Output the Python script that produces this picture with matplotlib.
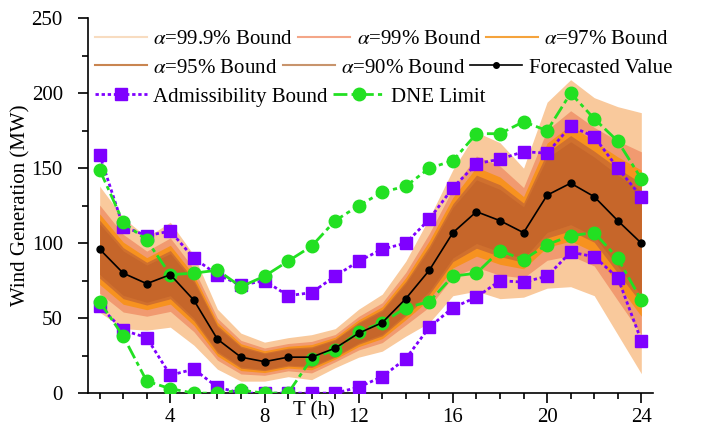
import numpy as np
import matplotlib
matplotlib.use("Agg")
from matplotlib import pyplot as plt
from matplotlib.lines import Line2D
from matplotlib.ticker import MultipleLocator

plt.rcParams['font.family'] = ['Liberation Serif', 'DejaVu Serif']
plt.rcParams['mathtext.fontset'] = 'stix'
plt.rcParams['font.size'] = 15

hours = np.arange(1, 25)

forecast = [96, 80, 73, 79, 62, 36, 24, 21, 24, 24, 30, 40,
            47, 63, 82, 107, 121, 115, 107, 132, 140, 131, 115, 100]

# half width of the widest (99.9%) band around the forecast
spread = [42, 37, 31, 35, 30, 20, 16, 13, 13, 15, 13, 16,
          19, 25, 35, 42, 53, 52, 43, 62, 69, 66, 76, 87]

levels = ['99.9%', '99%', '97%', '95%', '90%']
level_frac = [1.0, 0.70, 0.56, 0.46, 0.40]
fill_colors = ['#f9c99c', '#f19a70', '#f7921f', '#d0702e', '#c6662a']
legend_colors = ['#f8dcc0', '#f4a688', '#f5a33c', '#c98550', '#c8946c']

adm_upper = [159, 111, 105, 108, 90, 79, 72, 75, 65, 67, 78, 88,
             96, 100, 116, 137, 153, 156, 161, 160, 178, 171, 150, 131]
adm_lower = [58, 42, 37, 12, 16, 4, 0, 0, 0, 0, 0, 4,
             11, 23, 44, 57, 64, 75, 74, 78, 94, 91, 77, 35]
dne_upper = [149, 114, 102, 79, 80, 82, 71, 78, 88, 98, 115, 125,
             134, 138, 150, 155, 173, 173, 181, 175, 200, 183, 168, 143]
dne_lower = [61, 38, 8, 3, 0, 0, 2, 0, 0, 23, 29, 41,
             47, 57, 61, 78, 80, 95, 89, 99, 105, 107, 90, 62]

purple = '#7f00ff'
green = '#22e022'

fig = plt.figure(figsize=(7.03, 4.33), dpi=100)
ax = fig.add_axes([0.125, 0.092, 0.804, 0.866])

f = np.array(forecast, dtype=float)
s = np.array(spread, dtype=float)
for frac, col in zip(level_frac, fill_colors):
    ax.fill_between(hours, f - frac * s, f + frac * s, color=col, lw=0, zorder=1)

ax.plot(hours, forecast, color='black', lw=1.2, marker='o', ms=5, zorder=4)

adm_style = dict(color=purple, lw=2, linestyle=(0, (1.2, 1.0)), marker='s',
                 ms=8, mec=purple, zorder=3)
dne_style = dict(color=green, lw=2, linestyle=(0, (5, 1.5, 1.5, 1.5)), marker='o',
                 ms=9, mec=green, zorder=3)
ax.plot(hours, adm_upper, **adm_style)
ax.plot(hours, adm_lower, **adm_style)
ax.plot(hours, dne_upper, **dne_style)
ax.plot(hours, dne_lower, **dne_style)

ax.set_xlim(0.5, 24.5)
ax.set_ylim(0, 250)
ax.xaxis.set_major_locator(MultipleLocator(4))
ax.xaxis.set_minor_locator(MultipleLocator(1))
ax.yaxis.set_major_locator(MultipleLocator(50))
ax.yaxis.set_minor_locator(MultipleLocator(25))
ax.tick_params(which='major', direction='out', length=7, width=1.2, labelsize=15)
ax.tick_params(which='minor', direction='out', length=4, width=1.2)
ax.tick_params(axis='y', which='major', pad=11)
ax.spines['top'].set_visible(False)
ax.spines['right'].set_visible(False)
ax.spines['left'].set_linewidth(1.2)
ax.spines['bottom'].set_linewidth(1.2)

ax.set_ylabel('Wind Generation (MW)', fontsize=15, labelpad=1)
ax.set_xlabel('T (h)')
ax.xaxis.set_label_coords(0.40, -0.022)

band_handles = [Line2D([], [], color=c, lw=1.5) for c in legend_colors]
band_labels = [r'$\alpha$=' + lv + ' Bound' for lv in levels]
fc_handle = Line2D([], [], color='black', lw=1.2, marker='o', ms=4)
adm_handle = Line2D([], [], **{k: v for k, v in adm_style.items() if k != 'zorder'})
dne_handle = Line2D([], [], **{k: v for k, v in dne_style.items() if k != 'zorder'})

rows = [
    (band_handles[:3], band_labels[:3], 0.955),
    (band_handles[3:] + [fc_handle], band_labels[3:] + ['Forecasted Value'], 0.890),
    ([adm_handle, dne_handle], ['Admissibility Bound', 'DNE Limit'], 0.823),
]
for handles, labels, ytop in rows:
    leg = fig.legend(handles, labels, ncol=len(handles), loc='upper left',
                     bbox_to_anchor=(0.12, ytop), frameon=False, borderpad=0,
                     handlelength=2.5, handletextpad=0.3, columnspacing=0.25,
                     numpoints=1, fontsize=15)

fig.savefig('out.png', dpi=100)
